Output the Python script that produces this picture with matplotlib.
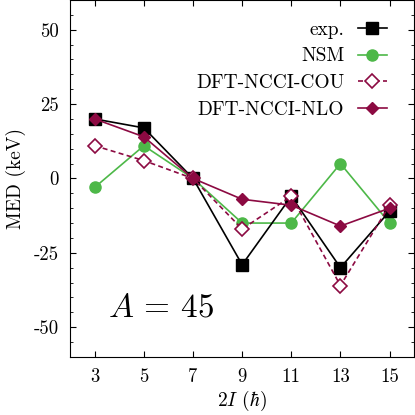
import matplotlib
matplotlib.use("Agg")
import matplotlib.pyplot as plt

plt.rcParams['font.family'] = 'serif'
plt.rcParams['font.serif'] = ['cmr10', 'DejaVu Serif']
plt.rcParams['mathtext.fontset'] = 'cm'
plt.rcParams['axes.unicode_minus'] = False
plt.rcParams['axes.formatter.use_mathtext'] = True

# spins (2I) and mirror energy differences in keV
spin2 = [3, 5, 7, 9, 11, 13, 15]
med_exp = [20, 17, 0, -29, -6, -30, -11]
med_nsm = [-3, 11, 0, -15, -15, 5, -15]
med_cou = [11, 6, 0, -17, -6, -36, -9]
med_nlo = [20, 14, 0, -7, -9, -16, -10]

yticks = [-50, -25, 0, 25, 50]
ytick_labels = ['-50', '-25', '0', '25', '50']

green = '#4db848'
maroon = '#8c0a42'

fig = plt.figure(figsize=(4.15, 4.15), dpi=100)
ax = fig.add_axes([0.169, 0.14, 0.829, 0.86])

ax.plot(spin2, med_exp, color='black', lw=1.2, marker='s', ms=8,
        label='exp.', zorder=3)
ax.plot(spin2, med_nsm, color=green, lw=1.2, marker='o', ms=8,
        label='NSM', zorder=2)
ax.plot(spin2, med_cou, color=maroon, lw=1.2, ls=(0, (3, 2)), marker='D',
        ms=7, mfc='white', mec=maroon, mew=1.2, label='DFT-NCCI-COU', zorder=4)
ax.plot(spin2, med_nlo, color=maroon, lw=1.2, marker='D', ms=6,
        label='DFT-NCCI-NLO', zorder=5)

ax.set_xlim(2, 16)
ax.set_ylim(-60, 60)
ax.set_xticks(spin2)
ax.set_xticklabels([str(s) for s in spin2])
ax.set_yticks(yticks)
ax.set_yticklabels(ytick_labels)
ax.set_yticks(range(-55, 60, 5), minor=True)
ax.tick_params(which='both', direction='in', top=True, right=True,
               labelsize=13.5)
ax.tick_params(which='major', length=4, pad=8)
ax.tick_params(which='minor', length=2.5)
ax.tick_params(axis='x', which='minor', top=False, bottom=False)

ax.set_xlabel(r'$2I$ ($\hbar$)', fontsize=14, labelpad=2)
ax.set_ylabel('MED (keV)', fontsize=14, labelpad=6)

ax.text(0.11, 0.137, r'$A\,=\,45$', transform=ax.transAxes, fontsize=24,
        va='center', ha='left')

ax.legend(loc='upper right', bbox_to_anchor=(1.0, 1.018), frameon=False,
          markerfirst=False, fontsize=14,
          handlelength=1.5, handletextpad=0.7, labelspacing=0.45,
          borderaxespad=0.8, borderpad=0.6)

fig.savefig('out.png', dpi=100)
